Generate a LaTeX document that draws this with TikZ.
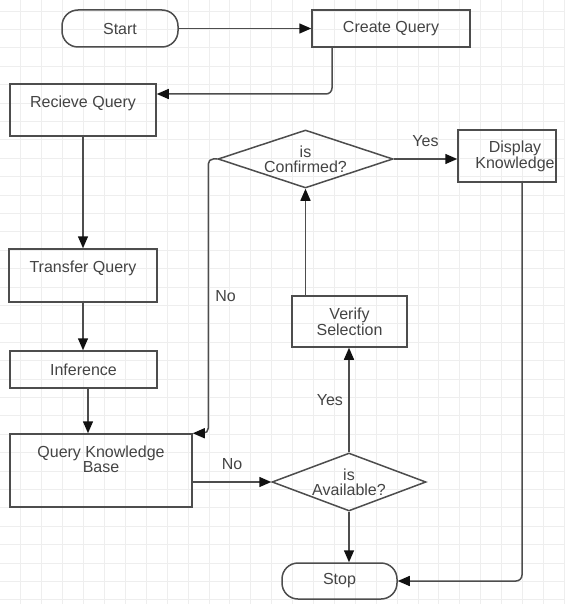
\documentclass[tikz,border=0pt]{standalone}
\usepackage{fontspec}
\setmainfont{Liberation Sans}
\usetikzlibrary{shapes.geometric,arrows.meta}
\definecolor{bg}{HTML}{FFFFFF}
\definecolor{gridc}{HTML}{EEEEEE}
\definecolor{linec}{HTML}{4D4D4D}
\definecolor{tipc}{HTML}{111111}
\definecolor{textc}{HTML}{444444}
\tikzset{
  txt/.style={font=\fontsize{16}{14.6}\selectfont, text=textc, align=center},
  box/.style={rectangle, draw=linec, line width=1.5pt, txt, inner sep=0pt},
  terminal/.style={box, rounded corners=16pt},
  decision/.style={box, diamond},
  toptxt/.style={txt, anchor=north, inner sep=12.5pt},
  arr/.style={draw=linec, line width=1.5pt, -{Triangle[length=12pt,width=10pt,color=tipc]}},
  lbl/.style={txt},
  gridline/.style={draw=gridc, line width=1pt}
}

\begin{document}
\begin{tikzpicture}[x=1pt,y=-1pt]
  \useasboundingbox (0,0) rectangle (565,604);
  \fill[bg] (0,0) rectangle (565,604);
  % background grid
  \foreach \i in {1,...,27} \draw[gridline] (20.9*\i,0) -- (20.9*\i,604);
  \foreach \j in {0,...,32} \draw[gridline] (0,11.1+18.4*\j) -- (565,11.1+18.4*\j);

  \node[terminal, minimum width=116pt, minimum height=37pt] (start) at (120,28.5) {Start};
  \node[box, minimum width=158pt, minimum height=37pt] (create) at (391,28.5) {Create Query};
  \node[box, minimum width=146pt, minimum height=52pt, label={[toptxt]north:Recieve Query}] (recv) at (83,110) {};
  \node[box, minimum width=148pt, minimum height=53pt, label={[toptxt]north:Transfer Query}] (transfer) at (83,275.5) {};
  \node[box, minimum width=147pt, minimum height=37pt] (infer) at (83.5,369.5) {Inference};
  \node[box, minimum width=182pt, minimum height=73pt, label={[toptxt]north:{Query Knowledge\\Base}}] (qkb) at (101,470.5) {};
  \node[decision, aspect=2.66, minimum width=154pt, minimum height=58pt] (avail) at (349,482) {is\\Available?};
  \node[terminal, minimum width=115pt, minimum height=36pt] (stop) at (339.5,581) {Stop};
  \node[box, minimum width=115pt, minimum height=51pt] (verify) at (349.5,321.5) {Verify\\Selection};
  \node[decision, aspect=3, minimum width=175pt, minimum height=58pt] (confirm) at (305.5,159) {is\\Confirmed?};
  \node[box, minimum width=98pt, minimum height=52pt, label={[txt, xshift=8pt]center:{Display\\Knowledge}}] (display) at (507,156) {};

  \draw[arr] (start) -- (create);
  \coordinate (cqdown) at ([xshift=-59pt]create.south);
  \draw[arr, rounded corners=6pt] (cqdown) |- ([yshift=16pt]recv.east);
  \draw[arr] (recv) -- (transfer);
  \draw[arr] (transfer.south) -- (transfer.south |- infer.north);
  \draw[arr] ([xshift=4.5pt]infer.south) -- ([xshift=4.5pt]infer.south |- qkb.north);
  \draw[arr] ([yshift=-11.5pt]qkb.east) -- (avail.west) node[lbl, midway, above=8pt] {No};
  \draw[arr] (avail.north) -- (avail.north |- verify.south) node[lbl, midway, left=2pt] {Yes};
  \draw[arr] (avail.south) -- (avail.south |- stop.north);
  \draw[arr] (confirm.south |- verify.north) -- (confirm.south);
  \draw[arr] (confirm.east) -- (confirm.east -| display.west) node[lbl, midway, above=8pt] {Yes};
  \draw[arr, rounded corners=5pt] (confirm.west) -- ++(-9,0) |- node[lbl, pos=0.25, right=3pt] {No} (qkb.north east);
  \draw[arr, rounded corners=6pt] ([xshift=15pt]display.south) |- (stop.east);
\end{tikzpicture}
\end{document}
